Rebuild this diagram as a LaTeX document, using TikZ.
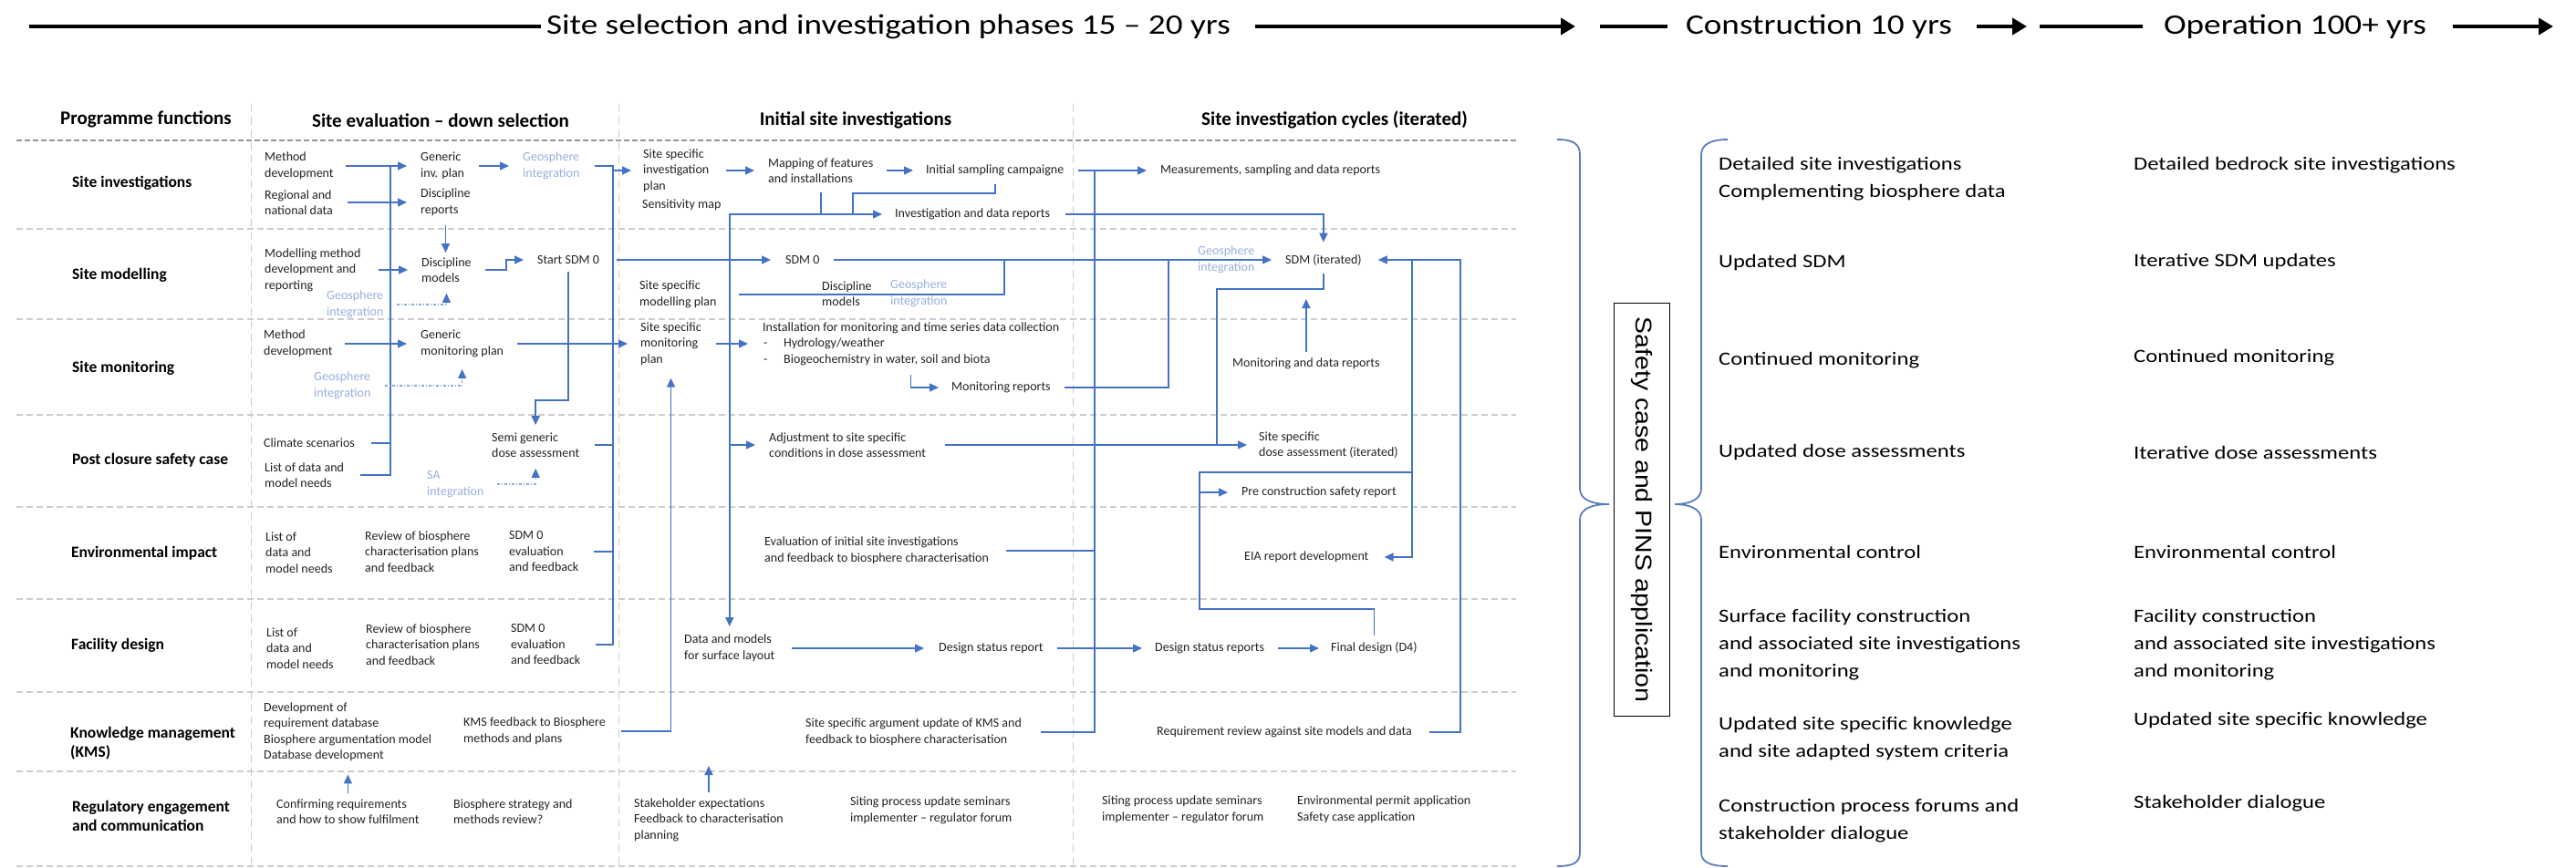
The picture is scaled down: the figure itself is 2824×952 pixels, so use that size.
\documentclass[tikz,border=0pt]{standalone}
\usepackage{fontspec}
\usepackage{graphicx}
\setmainfont{Carlito}
\newfontfamily\wcal[FakeStretch=1.2]{Carlito}
\newfontfamily\arialf{Liberation Sans}
\usetikzlibrary{arrows.meta,calc}
\definecolor{bl}{RGB}{68,114,196}
\definecolor{lbl}{RGB}{150,176,222}
\definecolor{gridc}{RGB}{205,205,205}
\definecolor{hgrid}{RGB}{150,150,150}
\definecolor{txtc}{RGB}{35,35,35}
\definecolor{brc}{RGB}{90,125,190}
\tikzset{
  tx/.style={font=\fontsize{14}{17.5}\selectfont, align=left, anchor=west, inner sep=0pt, text=txtc},
  gtx/.style={tx, text=lbl},
  rowlab/.style={font=\bfseries\fontsize{17.5}{21.5}\selectfont, align=left, anchor=west, inner sep=0pt},
  colhd/.style={font=\bfseries\fontsize{21}{25}\selectfont, inner sep=0pt},
  rtx/.style={font=\wcal\fontsize{20.5}{30}\selectfont, align=left, anchor=west, inner sep=0pt},
  hdtx/.style={font=\wcal\fontsize{31}{36}\selectfont, inner sep=0pt},
  conn/.style={draw=bl, line width=1.5pt},
  arr/.style={conn, -{Triangle[length=10pt,width=9pt]}},
  ddash/.style={draw=lbl!85!bl, line width=1.3pt, dash pattern=on 3pt off 2pt on 1pt off 2pt},
  darr/.style={ddash, -{Triangle[length=10pt,width=9pt,color=bl]}},
  hline/.style={draw=black, line width=4pt},
  harr/.style={hline, -{Triangle[length=16pt,width=18pt]}},
  rowln/.style={draw=gridc, line width=1.2pt, dash pattern=on 7pt off 4pt},
  hdrln/.style={draw=hgrid, line width=1.5pt, dash pattern=on 6pt off 3pt},
  colln/.style={draw=gridc, line width=1pt, dash pattern=on 9pt off 5pt},
  bracep/.style={draw=brc, line width=1.8pt},
}
\begin{document}
\begin{tikzpicture}[x=1pt,y=-1pt]
\useasboundingbox (0,0) rectangle (2824,952);
\fill[white] (0,0) rectangle (2824,952);

% ---------------- header ----------------
\node[hdtx] (t1) at (974,29) {Site selection and investigation phases 15 – 20 yrs};
\node[hdtx] (t2) at (1994,29) {Construction 10 yrs};
\node[hdtx] (t3) at (2516,29) {Operation 100+ yrs};
\coordinate (h1s) at (32,29);
\coordinate (h1e) at (1727,29);
\coordinate (h2s) at (1754,29);
\coordinate (h2e) at (2222,29);
\coordinate (h3s) at (2236,29);
\coordinate (h3e) at (2799,29);
\draw[hline] (h1s) -- ([xshift=-6pt]t1.west);
\draw[harr] ([xshift=27pt]t1.east) -- (h1e);
\draw[hline] (h2s) -- ([xshift=-20pt]t2.west);
\draw[harr] ([xshift=27pt]t2.east) -- (h2e);
\draw[hline] (h3s) -- ([xshift=-23pt]t3.west);
\draw[harr] ([xshift=29pt]t3.east) -- (h3e);

% ---------------- grid ----------------
\draw[hdrln] (18,154) -- (1662,154);
\foreach \yy in {251,350,455,556,657,759,846,950} \draw[rowln] (18,\yy) -- (1662,\yy);
\foreach \xx in {275,678,1176} \draw[colln] (\xx,114) -- (\xx,950);

% ---------------- headers ----------------
\node[colhd] (hPF) at (160,131) {Programme functions};
\node[colhd] (hSE) at (483,132) {Site evaluation – down selection};
\node[colhd] (hIS) at (938,132) {Initial site investigations};
\node[colhd] (hSC) at (1463,131) {Site investigation cycles (iterated)};

\node[rowlab] (rSI) at (79,201) {Site investigations};
\node[rowlab] (rSM) at (79,302) {Site modelling};
\node[rowlab] (rMO) at (79,404) {Site monitoring};
\node[rowlab] (rPC) at (79,505) {Post closure safety case};
\node[rowlab] (rEI) at (78,607) {Environmental impact};
\node[rowlab] (rFD) at (78,708) {Facility design};
\node[rowlab] (rKM) at (77,815) {Knowledge management\\(KMS)};
\node[rowlab] (rRE) at (79,895) {Regulatory engagement\\and communication};

% ---------------- site evaluation column ----------------
\node[tx] (md1) at (290,182) {Method\\development};
\node[tx] (rnd) at (290,222) {Regional and\\national data};
\node[tx] (gip) at (461,182) {Generic\\inv. plan};
\node[tx] (dr) at (461,222) {Discipline\\reports};
\node[gtx] (gi1) at (573,182) {Geosphere\\integration};
\node[tx] (mmd) at (290,296) {Modelling method\\development and\\reporting};
\node[tx] (dm) at (462,296) {Discipline\\models};
\node[tx] (ssdm) at (589,285) {Start SDM 0};
\node[gtx] (gi2) at (358,334) {Geosphere\\integration};
\node[tx] (md2) at (289,377) {Method\\development};
\node[tx] (gmp) at (461,377) {Generic\\monitoring plan};
\node[gtx] (gi3) at (344,423) {Geosphere\\integration};
\node[tx] (cs) at (289,486) {Climate scenarios};
\node[tx] (ldm1) at (290,521) {List of data and\\model needs};
\node[tx] (sg) at (539,488) {Semi generic\\dose assessment};
\node[gtx] (sa) at (468,531) {SA\\integration};
\node[tx] (ldm2) at (291,606) {List of\\data and\\model needs};
\node[tx] (rev1) at (400,605) {Review of biosphere\\characterisation plans\\and feedback};
\node[tx] (sdme1) at (558,605) {SDM 0\\evaluation\\and feedback};
\node[tx] (ldm3) at (292,711) {List of\\data and\\model needs};
\node[tx] (rev2) at (401,707) {Review of biosphere\\characterisation plans\\and feedback};
\node[tx] (sdme2) at (560,707) {SDM 0\\evaluation\\and feedback};
\node[tx] (dev) at (289,803) {Development of\\requirement database\\Biosphere argumentation model\\Database development};
\node[tx] (kmsf) at (508,802) {KMS feedback to Biosphere\\methods and plans};
\node[tx] (conf) at (303,890) {Confirming requirements\\and how to show fulfilment};
\node[tx] (bsm) at (497,890) {Biosphere strategy and\\methods review?};

% ---------------- initial site investigations column ----------------
\node[tx] (ssip) at (705,187) {Site specific\\investigation\\plan};
\node[tx] (sens) at (704,225) {Sensitivity map};
\node[tx] (map) at (842,187) {Mapping of features\\and installations};
\node[tx] (isc) at (1015,187) {Initial sampling campaigne};
\node[tx] (idr) at (981,235) {Investigation and data reports};
\node[tx] (sdm0) at (861,285) {SDM 0};
\node[tx] (ssmp) at (701,323) {Site specific\\modelling plan};
\node[tx] (dm2) at (901,322) {Discipline\\models};
\node[gtx] (gi4) at (976,322) {Geosphere\\integration};
\node[tx] (ssmon) at (702,377) {Site specific\\monitoring\\plan};
\node[tx] (inst) at (836,377) {Installation for monitoring and time series data collection\\\makebox[23pt][l]{\hspace{1pt}-}Hydrology/weather\\\makebox[23pt][l]{\hspace{1pt}-}Biogeochemistry in water, soil and biota};
\node[tx] (monr) at (1043,425) {Monitoring reports};
\node[tx] (adj) at (843,488) {Adjustment to site specific\\conditions in dose assessment};
\node[tx] (eval) at (838,604) {Evaluation of initial site investigations\\and feedback to biosphere characterisation};
\node[tx] (dml) at (750,711) {Data and models\\for surface layout};
\node[tx] (dsr) at (1029,711) {Design status report};
\node[tx] (ssa) at (883,803) {Site specific argument update of KMS and\\feedback to biosphere characterisation};
\node[tx] (stk) at (695,899) {Stakeholder expectations\\Feedback to characterisation\\planning};
\node[tx] (sit1) at (932,889) {Siting process update seminars\\implementer – regulator forum};

% ---------------- cycles column ----------------
\node[tx] (meas) at (1272,187) {Measurements, sampling and data reports};
\node[tx] (sdmi) at (1409,285) {SDM (iterated)};
\node[tx] (mdr) at (1351,399) {Monitoring and data reports};
\node[tx] (ssda) at (1380,488) {Site specific\\dose assessment (iterated)};
\node[tx] (pcsr) at (1361,540) {Pre construction safety report};
\node[tx] (eia) at (1364,611) {EIA report development};
\node[tx] (dsrs) at (1266,711) {Design status reports};
\node[tx] (fd) at (1459,711) {Final design (D4)};
\node[tx] (req) at (1268,803) {Requirement review against site models and data};
\node[tx] (sit2) at (1208,888) {Siting process update seminars\\implementer – regulator forum};
\node[tx] (envp) at (1422,888) {Environmental permit application\\Safety case application};

% ---------------- connectors: site evaluation ----------------
\coordinate (busA) at (428,182);
\draw[arr] ([xshift=13pt]md1.east) -- ([xshift=-15pt]gip.west);
\draw[conn] ([xshift=18pt]cs.east) -| (busA);
\draw[conn] ([xshift=18pt]ldm1.east) -| (busA);
\draw[arr] ([xshift=16pt]rnd.east) -- ([xshift=-15pt]dr.west);
\draw[arr] ([xshift=16pt]gip.east) -- ([xshift=-15pt]gi1.west);
\draw[arr] ($(dr.south)+(0,10)$) -- ($(dr.south |- dm.north)+(0,-5)$);
\draw[arr] ([xshift=19pt]mmd.east) -- ([xshift=-15pt]dm.west);
\draw[arr] ([xshift=15pt]dm.east) -- ++(23,0) |- ([xshift=-15pt]ssdm.west);
\draw[darr] ([xshift=14pt]gi2.east) -| ($(dm.south)+(0,12)$);
\draw[arr] ([xshift=13pt]md2.east) -- ([xshift=-15pt]gmp.west);
\draw[arr] ([xshift=15pt]gmp.east) -- ([xshift=-14pt]ssmon.west);
\draw[darr] ([xshift=15pt]gi3.east) -| ($(gmp.south)+(0,13)$);
\draw[arr] ([xshift=19pt]ssdm.east) -- ([xshift=-16pt]sdm0.west);
\coordinate (jsg) at (624,439);
\draw[arr] ($(ssdm.south)+(0,8)$) -- (ssdm.south |- jsg) -| ($(sg.north)+(0,-8)$);
\draw[darr] ([xshift=14pt]sa.east) -| ($(sg.south)+(0,12)$);
\coordinate (busBt) at (672,182);
\coordinate (busBb) at (672,707);
\draw[conn] ([xshift=16pt]gi1.east) -- (busBt) -- (busBb) -- ([xshift=16pt]sdme2.east);
\draw[conn] ([xshift=17pt]sg.east) -- (sg.east -| busBt);
\draw[conn] ([xshift=16pt]sdme1.east) -- (sdme1.east -| busBt);
\draw[arr] (ssip.west -| busBt) -- ([xshift=-13pt]ssip.west);

% ---------------- connectors: initial site investigations ----------------
\draw[arr] ([xshift=19pt]ssip.east) -- ([xshift=-15pt]map.west);
\draw[arr] ([xshift=14pt]map.east) -- ([xshift=-14pt]isc.west);
\coordinate (jm) at (map.south |- idr.west);
\draw[conn] ($(map.south)+(0,10)$) -- (jm);
\draw[arr] (jm) -- ([xshift=-14pt]idr.west);
\draw[arr] (jm) -| ($(dml.north)+(0,-9)$);
\draw[arr] (dml.north |- adj.west) -- ([xshift=-15pt]adj.west);
\coordinate (ji) at (935,212);
\draw[conn] ($(isc.south)+(0,9)$) |- (ji) -- (ji |- jm);
\draw[arr] ([xshift=17pt]idr.east) -| ($(sdmi.north)+(0,-13)$);
\draw[arr] ([xshift=15pt]isc.east) -- ([xshift=-15pt]meas.west);
\coordinate (busCt) at (1200,187);
\coordinate (busCb) at (1200,803);
\draw[conn] (busCt) -- (busCb) -- ([xshift=21pt]ssa.east);
\draw[conn] ([xshift=19pt]eval.east) -- (eval.east -| busCt);
\draw[arr] ([xshift=15pt]sdm0.east) -- ([xshift=-15pt]sdmi.west);
\node[gtx] (gi5) at (1313,285) {Geosphere\\integration};
\coordinate (jsd) at (1101,285);
\draw[conn] ([xshift=24pt]ssmp.east) -| (jsd);
\draw[arr] ([xshift=16pt]ssmon.east) -- ([xshift=-16pt]inst.west);
\draw[arr] ($(inst.south)+(0,10)$) |- ([xshift=-14pt]monr.west);
\coordinate (jmr) at (1281,285);
\draw[conn] ([xshift=15pt]monr.east) -| (jmr);
\draw[arr] ([xshift=21pt]adj.east) -- ([xshift=-13pt]ssda.west);
\draw[arr] ([xshift=18pt]dml.east) -- ([xshift=-16pt]dsr.west);
\draw[arr] ([xshift=17pt]kmsf.east) -| ($(ssmon.south)+(0,14)$);
\draw[arr] ($(conf.north)+(0,-6)$) -- ($(conf.north |- dev.south)+(0,14)$);
\coordinate (tstk) at (779,840);
\draw[arr] ($(stk.north)+(0,-6)$) -- (stk.north |- tstk);

% ---------------- connectors: cycles ----------------
\coordinate (js1) at (1452,317);
\coordinate (jadj) at (1334,488);
\draw[conn] ($(sdmi.south)+(0,9)$) -- (sdmi.south |- js1) -| (jadj);
\coordinate (tmdr) at (1434,328);
\draw[arr] ($(mdr.north)+(0,-7)$) -- (mdr.north |- tmdr);
\coordinate (rb1) at (1548,285);
\coordinate (rb2) at (1601,285);
\draw[arr] ([xshift=19pt]req.east) -| (rb2) -- ([xshift=18pt]sdmi.east);
\draw[arr] (rb1) |- ([xshift=17pt]eia.east);
\coordinate (jf2) at (1315,668);
\coordinate (jf4) at (1548,518);
\draw[conn] ($(fd.north)+(0,-7)$) |- (jf2) |- (jf4);
\draw[arr] (pcsr.west -| jf2) -- ([xshift=-15pt]pcsr.west);
\draw[arr] ([xshift=15pt]dsr.east) -- ([xshift=-14pt]dsrs.west);
\draw[arr] ([xshift=15pt]dsrs.east) -- ([xshift=-13pt]fd.west);

% ---------------- braces and box ----------------
\draw[bracep] (1707,153) .. controls (1725,153) and (1732,158) .. (1732,170) -- (1732,536)
  .. controls (1732,548) and (1745,553) .. (1764,553)
  .. controls (1745,553) and (1732,558) .. (1732,570) -- (1732,935)
  .. controls (1732,946) and (1725,950) .. (1707,950);
\draw[bracep] (1894,153) .. controls (1876,153) and (1865,158) .. (1865,170) -- (1865,536)
  .. controls (1865,548) and (1852,553) .. (1836,553)
  .. controls (1852,553) and (1865,558) .. (1865,570) -- (1865,935)
  .. controls (1865,946) and (1876,950) .. (1894,950);
\node[draw=black, line width=1.6pt, minimum width=453pt, minimum height=61pt, inner sep=0pt,
  rotate=-90, font=\arialf\fontsize{28.5}{30}\selectfont] (scbox) at (1800,559)
  {\scalebox{1}[0.88]{Safety case and PINS application}};

% ---------------- right columns ----------------
\node[rtx] (r1a) at (1884,196) {Detailed site investigations\\Complementing biosphere data};
\node[rtx] (r1b) at (1884,288) {Updated SDM};
\node[rtx] (r1c) at (1884,395) {Continued monitoring};
\node[rtx] (r1d) at (1884,496) {Updated dose assessments};
\node[rtx] (r1e) at (1884,605) {Environmental control};
\node[rtx] (r1f) at (1884,707) {Surface facility construction\\and associated site investigations\\and monitoring};
\node[rtx] (r1g) at (1884,810) {Updated site specific knowledge\\and site adapted system criteria};
\node[rtx] (r1h) at (1884,900) {Construction process forums and\\stakeholder dialogue};
\node[rtx] (r2a) at (2339,181) {Detailed bedrock site investigations};
\node[rtx] (r2b) at (2339,287) {Iterative SDM updates};
\node[rtx] (r2c) at (2339,392) {Continued monitoring};
\node[rtx] (r2d) at (2339,496) {Iterative dose assessments};
\node[rtx] (r2e) at (2339,605) {Environmental control};
\node[rtx] (r2f) at (2339,707) {Facility construction\\and associated site investigations\\and monitoring};
\node[rtx] (r2g) at (2339,790) {Updated site specific knowledge};
\node[rtx] (r2h) at (2339,881) {Stakeholder dialogue};
\end{tikzpicture}
\end{document}
